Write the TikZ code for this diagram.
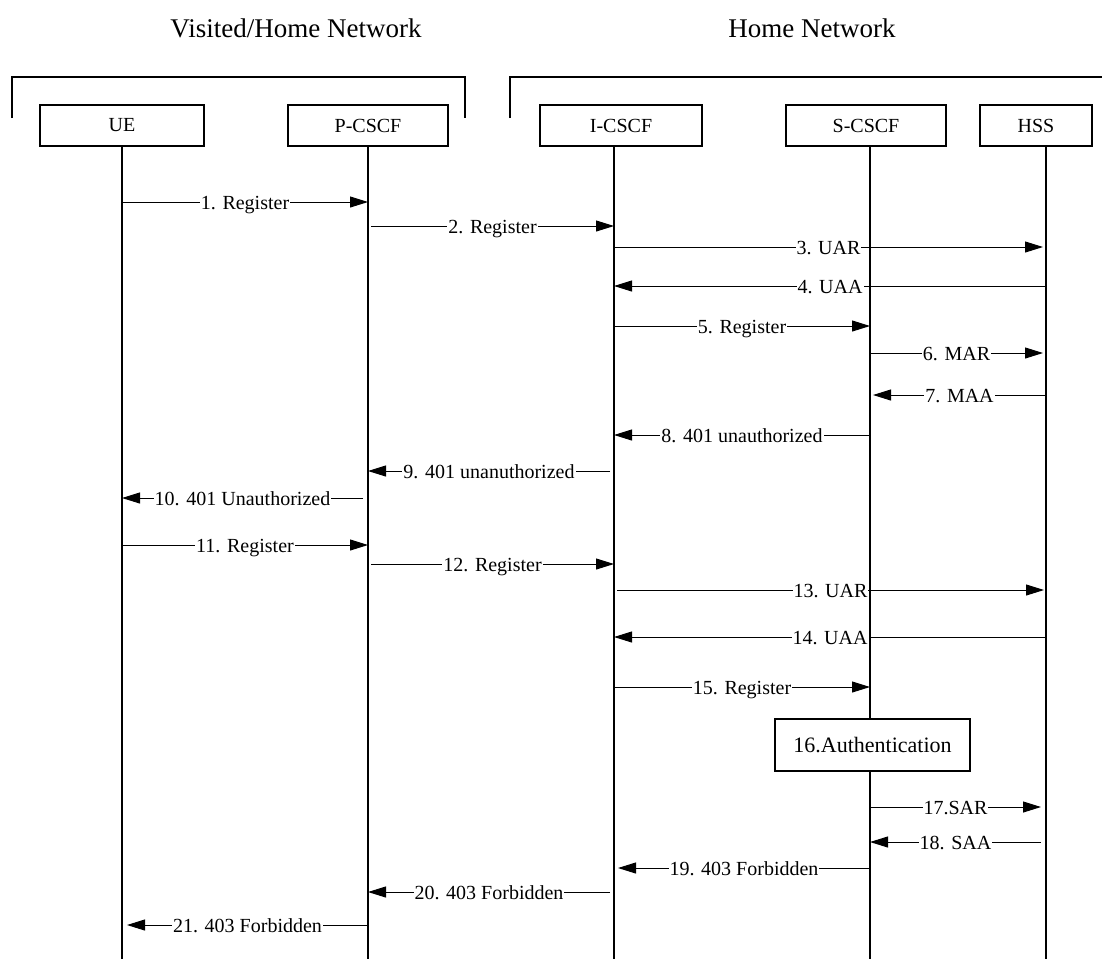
\documentclass[tikz,border=0pt]{standalone}
\usepackage{fontspec}
\setmainfont{Liberation Serif}
\usetikzlibrary{arrows.meta,calc}

% one message: from lifeline #1 (x offset #2) to lifeline #3 (x offset #4) at height #5
\newcommand\msg[6]{%
  \draw[msg] ($(#1 |- 0,#5)+(#2,0)$) -- ($(#3 |- 0,#5)+(#4,0)$)
    node[lbl,midway] {#6};}

\begin{document}
\begin{tikzpicture}[x=1pt,y=-1pt,
  entity/.style={draw, line width=1.3pt, inner sep=0pt, minimum height=41pt,
                 font=\fontsize{20}{24}\selectfont},
  lifeline/.style={line width=1.5pt},
  bracket/.style={line width=1.3pt},
  msg/.style={line width=1pt, -{Triangle[length=18pt,width=11pt]}},
  lbl/.style={fill=white, inner sep=1pt, anchor=base, yshift=-7pt,
              font=\fontsize{20}{24}\selectfont},
  title/.style={anchor=base, inner sep=0pt, font=\fontsize{27}{32}\selectfont},
  procbox/.style={draw, line width=1.3pt, fill=white, inner sep=0pt,
                  minimum width=195pt, minimum height=52pt,
                  font=\fontsize{22}{26}\selectfont}]

\useasboundingbox (0,0) rectangle (1102,959);

% network domains
\node[title] (tvisited) at (296,37) {Visited/Home Network};
\node[title] (thome) at (812,37) {Home Network};
\draw[bracket] (12,118) -- (12,77) -- (465,77) -- (465,118);
\draw[bracket] (510,118) -- (510,77) -- (1102,77);

% entities
\node[entity, minimum width=164pt] (ue)    at (122,125.5)  {UE};
\node[entity, minimum width=160pt] (pcscf) at (368,125.5)  {P-CSCF};
\node[entity, minimum width=162pt] (icscf) at (621,125.5)  {I-CSCF};
\node[entity, minimum width=160pt] (scscf) at (866,125.5)  {S-CSCF};
\node[entity, minimum width=112pt] (hss)   at (1036,125.5) {HSS};

% lifelines
\coordinate (lue) at (122,146);
\coordinate (lp)  at (368,146);
\coordinate (li)  at (614,146);
\coordinate (ls)  at (870,146);
\coordinate (lh)  at (1046,146);
\foreach \l in {lue,lp,li,ls,lh}
  \draw[lifeline] (\l) -- (\l |- 0,959);

% first registration attempt
\msg{lue}{0}{lp}{0}{202}{1. Register}
\msg{lp}{3}{li}{0}{226}{2. Register}
\msg{li}{0}{lh}{-3}{247}{3. UAR}
\msg{lh}{0}{li}{0}{286}{4. UAA}
\msg{li}{0}{ls}{0}{326}{5. Register}
\msg{ls}{0}{lh}{-3}{353}{6. MAR}
\msg{lh}{0}{ls}{3}{395}{7. MAA}
\msg{ls}{0}{li}{0}{435}{8. 401 unauthorized}
\msg{li}{-4}{lp}{0}{471}{9. 401 unanuthorized}
\msg{lp}{-5}{lue}{0}{498}{10. 401 Unauthorized}

% second registration attempt
\msg{lue}{0}{lp}{0}{545}{11. Register}
\msg{lp}{3}{li}{0}{564}{12. Register}
\msg{li}{3}{lh}{-2}{590}{13. UAR}
\msg{lh}{0}{li}{0}{637}{14. UAA}
\msg{li}{0}{ls}{0}{687}{15. Register}

\node[procbox] (auth) at (872.5,745) {16.Authentication};

\msg{ls}{0}{lh}{-5}{807}{17.SAR}
\msg{lh}{-5}{ls}{0}{842}{18. SAA}
\msg{ls}{0}{li}{4}{868}{19. 403 Forbidden}
\msg{li}{-4}{lp}{0}{892}{20. 403 Forbidden}
\msg{lp}{0}{lue}{5}{925}{21. 403 Forbidden}

\end{tikzpicture}
\end{document}
